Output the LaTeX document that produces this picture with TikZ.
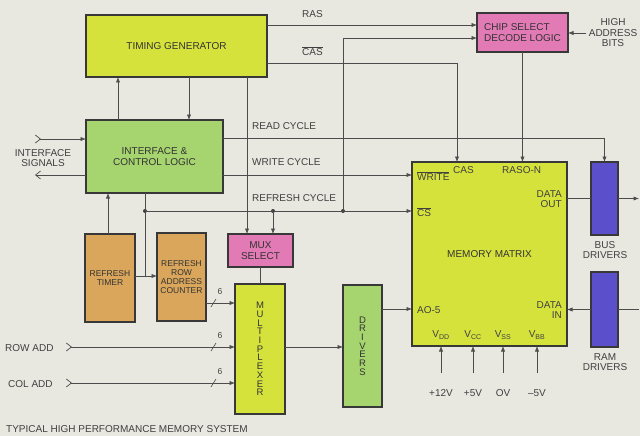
\documentclass[tikz,border=0pt]{standalone}
\usepackage{fontspec}
\setmainfont{Liberation Sans}
\usetikzlibrary{arrows.meta}

\begin{document}
\begin{tikzpicture}[x=1pt,y=-1pt,
    blk/.style={draw=black!78,line width=1.2pt,inner sep=0pt,outer sep=0pt,align=center,
      font=\fontsize{10}{10.5}\selectfont,text=black!80},
    stk/.style={font=\fontsize{9.5}{8.7}\selectfont},
    smb/.style={font=\fontsize{8.5}{9}\selectfont},
    sig/.style={draw=black!70,line width=0.6pt},
    tip/.style={sig,-{Latex[length=5.5pt,width=4.2pt]}},
    inp/.style={sig,{Straight Barb[reversed,length=5pt,width=8pt,line width=0.7pt]}-{Latex[length=5.5pt,width=4.2pt]}},
    outp/.style={sig,-{Straight Barb[length=5pt,width=8pt,line width=0.7pt]}},
    lab/.style={font=\fontsize{10}{10.5}\selectfont,text=black!75,inner sep=0pt,align=center},
    jdot/.style={circle,fill=black!75,inner sep=0pt,minimum size=4pt}]
    \definecolor{bgc}{HTML}{E8E7E0}
    \definecolor{ylw}{HTML}{D6E23C}
    \definecolor{grn}{HTML}{A6D46E}
    \definecolor{pnk}{HTML}{E27BB5}
    \definecolor{tan}{HTML}{D9A65B}
    \definecolor{ppl}{HTML}{5B4FCB}
    \fill[bgc] (0,0) rectangle (640,436);
    \useasboundingbox (0,0) rectangle (640,436);

    \node[blk,fill=ylw,minimum width=181pt,minimum height=62pt] (tg) at (176.5,46) {TIMING GENERATOR};
    \node[blk,fill=grn,minimum width=137pt,minimum height=73pt] (ic) at (154.5,156.5) {INTERFACE \&\\CONTROL LOGIC};
    \node[blk,fill=pnk,minimum width=91pt,minimum height=39pt,align=left] (cs) at (522.5,32.5) {CHIP SELECT\\DECODE LOGIC};
    \node[blk,fill=ylw,minimum width=155pt,minimum height=184pt] (mm) at (489.5,254) {MEMORY MATRIX};
    \node[blk,fill=ppl,minimum width=27pt,minimum height=73pt] (bd) at (604.5,198.5) {};
    \node[blk,fill=ppl,minimum width=27pt,minimum height=75pt] (rd) at (604.5,309.5) {};
    \node[blk,fill=grn,minimum width=39pt,minimum height=122pt,stk] (drv) at (362.5,346) {D\\R\\I\\V\\E\\R\\S};
    \node[blk,fill=ylw,minimum width=50pt,minimum height=130pt,stk] (mux) at (260,349) {M\\U\\L\\T\\I\\P\\L\\E\\X\\E\\R};
    \node[blk,fill=pnk,minimum width=65pt,minimum height=33pt] (ms) at (260.5,250.5) {MUX\\SELECT};
    \node[blk,fill=tan,minimum width=50pt,minimum height=88pt,smb] (rt) at (110,278) {REFRESH\\TIMER};
    \node[blk,fill=tan,minimum width=49pt,minimum height=88pt,smb] (cnt) at (181.5,277) {REFRESH\\ROW\\ADDRESS\\COUNTER};

    \node[jdot] (d1) at (145,211) {};
    \node[jdot] (d2) at (273,211) {};
    \node[jdot] (d3) at (343,211) {};
    \coordinate (jn) at (145,276);

    \coordinate (ras) at ([yshift=7.5pt]cs.west);
    \coordinate (csb) at ([yshift=-5.5pt]cs.west);
    \coordinate (cas) at ([yshift=-17pt]tg.east);
    \coordinate (casm) at ([xshift=-32.5pt]mm.north);
    \coordinate (tgm) at ([xshift=70.5pt]tg.south);
    \coordinate (ict) at ([xshift=-36.5pt]ic.north);
    \coordinate (tgi) at ([xshift=34.5pt]ic.north);
    \coordinate (rti) at ([xshift=-2pt]rt.north);
    \coordinate (rdc) at ([yshift=18.5pt]ic.east);
    \coordinate (wrc) at ([yshift=-18.5pt]ic.east);
    \coordinate (sin) at (35,139);
    \coordinate (sout) at (35,175);
    \coordinate (hab) at (586,33);
    \coordinate (mxo) at ([yshift=2pt]mux.east);
    \coordinate (ao) at ([yshift=37pt]drv.east);
    \coordinate (edge) at (639,0);

    \draw[tip] (ras -| tg.east) -- (ras);
    \draw[tip] (cas) -| (casm);
    \draw[tip] (cs.south) -- (cs.south |- mm.north);
    \draw[tip] (hab) -- (hab -| cs.east);
    \draw[tip] (tgm) -- (tgm |- ms.north);
    \draw[tip] (ict) -- (ict |- tg.south);
    \draw[tip] (tgi |- tg.south) -- (tgi);
    \draw[tip] (rti) -- (rti |- ic.south);
    \draw[inp] (sin) -- (sin -| ic.west);
    \draw[outp] (sout -| ic.west) -- (sout);
    \draw[tip] (rdc) -| (bd.north);
    \draw[tip] (wrc) -- (wrc -| mm.west);
    \draw[sig] (d1 |- ic.south) -- (jn);
    \draw[tip] (rt.east |- jn) -- (cnt.west |- jn);
    \draw[tip] (d1) -- (d1 -| mm.west);
    \draw[tip] (d2) -- (d2 |- ms.north);
    \draw[tip] (d3) |- (csb);
    \draw[sig,line width=1.2pt] (ms.south) -- (ms.south |- mux.north);
    \draw[tip] (mxo) -- (mxo -| drv.west);
    \draw[tip] (ao) -- (ao -| mm.west);
    \draw[sig] (bd.west -| mm.east) -- (bd.west);
    \draw[tip] (bd.east) -- (bd.east -| edge);
    \draw[tip] (rd.west) -- (rd.west -| mm.east);
    \draw[sig] (rd.east) -- (rd.east -| edge);

    \coordinate (cnto) at ([yshift=-26pt]cnt.east);
    \coordinate (rowin) at (66,347);
    \coordinate (colin) at (66,383);
    \draw[tip] (cnto) -- (cnto -| mux.west);
    \draw[inp] (rowin) -- (rowin -| mux.west);
    \draw[inp] (colin) -- (colin -| mux.west);
    \foreach \src/\k in {cnto/a, rowin/b, colin/c} {
      \draw[sig] ([xshift=-24pt,yshift=-4pt]\src -| mux.west) -- ++(5,-8);
      \node[lab,smb] (six\k) at ([xshift=-15pt,yshift=11pt]\src -| mux.west) {6};
    }

    \foreach \xx/\vl/\pl/\k in {441/DD/+12V/a, 473/CC/+5V/b, 503/SS/OV/c, 537/BB/\textendash5V/d} {
      \coordinate (pw\k) at (\xx,373);
      \draw[tip] (pw\k) -- (pw\k |- mm.south);
      \node[lab] (pl\k) at (\xx,393) {\pl};
      \node[lab] (vl\k) at (\xx,335) {V\textsubscript{\vl}};
    }

    \node[lab,anchor=west] (rasl) at (302,14) {RAS};
    \node[lab,anchor=west] (casl) at (302,51) {$\overline{\hbox{CAS}}$};
    \node[lab,anchor=west] (rdl) at (252,126) {READ CYCLE};
    \node[lab,anchor=west] (wrl) at (252,162) {WRITE CYCLE};
    \node[lab,anchor=west] (rfl) at (252,198) {REFRESH CYCLE};
    \node[lab] (isl) at (43,158) {INTERFACE\\SIGNALS};
    \node[lab] (hal) at (613,33) {HIGH\\ADDRESS\\BITS};
    \node[lab,anchor=west] (rowl) at (5,348) {ROW ADD};
    \node[lab,anchor=west] (coll) at (8,384) {COL ADD};
    \node[lab] (bdl) at (605,250) {BUS\\DRIVERS};
    \node[lab] (rdrl) at (605,362) {RAM\\DRIVERS};
    \node[lab,anchor=west] (wrt) at (417,176) {$\overline{\hbox{WRITE}}$};
    \node[lab,anchor=west] (cst) at (417,212) {$\overline{\hbox{CS}}$};
    \node[lab,anchor=west] (cast) at (453,170) {CAS};
    \node[lab,anchor=west] (rasn) at (502,170) {RASO-N};
    \node[lab,anchor=east,align=right] (dout) at (562,199) {DATA\\OUT};
    \node[lab,anchor=east,align=right] (din) at (562,310) {DATA\\IN};
    \node[lab,anchor=west] (aol) at (417,310) {AO-5};
    \node[lab,anchor=west] (cap) at (6,429) {TYPICAL HIGH PERFORMANCE MEMORY SYSTEM};
\end{tikzpicture}
\end{document}
